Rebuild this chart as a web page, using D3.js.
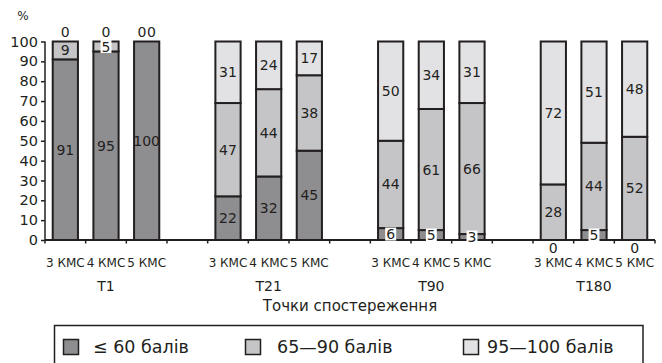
<!DOCTYPE html>
<html><head><meta charset="utf-8">
<script src="https://cdn.jsdelivr.net/npm/d3@7"></script>
<style>body{margin:0;background:#fff}svg{display:block}text{font-family:"DejaVu Sans",sans-serif;fill:#231f20}</style>
</head><body><svg id="c" width="662" height="363"></svg>
<script>
const groups = ["Т1","Т21","Т90","Т180"];
const classes = ["3 КМС","4 КМС","5 КМС"];
const low  = [91,95,100, 22,32,45, 6,5,3, 0,5,0];
const mid  = [9,5,0, 47,44,38, 44,61,66, 28,44,52];
const high = [0,0,0, 31,24,17, 50,34,31, 72,51,48];
const seriesNames = ["≤  60 балів","65—90 балів","95—100 балів"];
const colors = ["#8e8e90","#c5c5c7","#e2e2e4"];
const yTicks = [0,10,20,30,40,50,60,70,80,90,100];
const axisTitle = "Точки спостереження";

const svg = d3.select("#c");
const ink = "#231f20";
const slots = [];
groups.forEach((g,gi)=>{classes.forEach((c,ci)=>slots.push(g+"|"+c)); if(gi<groups.length-1) slots.push("gap"+gi);});
const x = d3.scaleBand().domain(slots).range([45,655]).padding(0);
const y = d3.scaleLinear().domain([0,100]).range([240,41.5]);
const bw = x.bandwidth()*0.62;

const rows = [];
groups.forEach((g,gi)=>classes.forEach((c,ci)=>{
  const i = gi*3+ci;
  rows.push({key:g+"|"+c, vals:[low[i],mid[i],high[i]]});
}));
const stack = d3.stack().keys([0,1,2])(rows.map(r=>r.vals));

stack.forEach((layer,si)=>{
  svg.append("g").selectAll("rect").data(layer).join("rect")
    .attr("x",(d,i)=>x(rows[i].key)+(x.bandwidth()-bw)/2)
    .attr("y",d=>y(d[1]))
    .attr("width",bw)
    .attr("height",d=>y(d[0])-y(d[1]))
    .attr("fill",colors[si])
    .attr("stroke",ink).attr("stroke-width",2);
});

const yAxis = d3.axisLeft(y).tickValues(yTicks).tickSize(4).tickPadding(3);
const gy = svg.append("g").attr("transform","translate(45,0)").call(yAxis);
gy.select(".domain").attr("stroke",ink).attr("stroke-width",1.5).attr("d","M0,240V41.5");
gy.selectAll(".tick line").attr("stroke",ink).attr("stroke-width",1.5);
gy.selectAll("text").style("font-size","14.5px").attr("fill",ink);

const xAxis = d3.axisBottom(x).tickSize(0).tickFormat("");
const gx = svg.append("g").attr("transform","translate(0,240)").call(xAxis);
gx.select(".domain").attr("stroke",ink).attr("stroke-width",2).attr("d","M45,0H655");
const bounds = slots.map(s=>x(s)).concat([x(slots[slots.length-1])+x.bandwidth()]);
gx.selectAll(".bt").data(bounds).join("line").attr("class","bt")
  .attr("x1",d=>d).attr("x2",d=>d).attr("y1",0).attr("y2",3.5)
  .attr("stroke",ink).attr("stroke-width",1.5);

svg.append("text").attr("x",23).attr("y",16).attr("dy","0.35em").attr("text-anchor","middle")
  .style("font-size","12px").text("%");

svg.append("g").selectAll("text").data(rows).join("text")
  .attr("x",d=>x(d.key)+x.bandwidth()/2).attr("y",263).attr("dy","0.35em")
  .attr("text-anchor","middle").style("font-size","12px")
  .text(d=>d.key.split("|")[1]);
svg.append("g").selectAll("text").data(groups).join("text")
  .attr("x",g=>x(g+"|"+classes[1])+x.bandwidth()/2).attr("y",286).attr("dy","0.35em")
  .attr("text-anchor","middle").style("font-size","14px").text(g=>g);
svg.append("text").attr("x",350).attr("y",306).attr("dy","0.35em")
  .attr("text-anchor","middle").style("font-size","15px").text(axisTitle);

const lg = svg.append("g");
rows.forEach((r,i)=>{
  const cx = x(r.key)+x.bandwidth()/2;
  const zerosTop = [], zerosBottom = [];
  stack.forEach((layer,si)=>{
    const d = layer[i], v = r.vals[si];
    if(v===0){ if(d[0]===0 && si===0) zerosBottom.push(v); else zerosTop.push(v); return; }
    const cy = (y(d[0])+y(d[1]))/2;
    const t = lg.append("text").attr("x",cx).attr("y",cy).attr("dy","0.36em")
      .attr("text-anchor","middle").style("font-size","14px").text(v);
    if(v<9){
      const bb = t.node().getBBox();
      lg.insert("rect","text:last-child").attr("x",bb.x-1).attr("y",cy-6.5).attr("width",bb.width+2).attr("height",13).attr("fill","#fff");
      t.raise();
    }
  });
  const place = (arr,cy)=>arr.forEach((v,k)=>{
    lg.append("text").attr("x",cx+(k-(arr.length-1)/2)*9.5).attr("y",cy).attr("dy","0.36em")
      .attr("text-anchor","middle").style("font-size","14px").text(v);
  });
  place(zerosTop,32);
  place(zerosBottom,248);
});

const leg = svg.append("g");
leg.append("rect").attr("x",54.5).attr("y",325.5).attr("width",588.5).attr("height",60)
  .attr("fill","none").attr("stroke",ink).attr("stroke-width",1.5);
const lx = [63.5,245.5,463.5], tx=[93,277,487];
seriesNames.forEach((n,i)=>{
  leg.append("rect").attr("x",lx[i]).attr("y",339.5).attr("width",15).attr("height",15)
    .attr("fill",colors[i]).attr("stroke",ink).attr("stroke-width",1.5);
  leg.append("text").attr("x",tx[i]).attr("y",347).attr("dy","0.36em").style("font-size","17.5px").text(n);
});
</script></body></html>
